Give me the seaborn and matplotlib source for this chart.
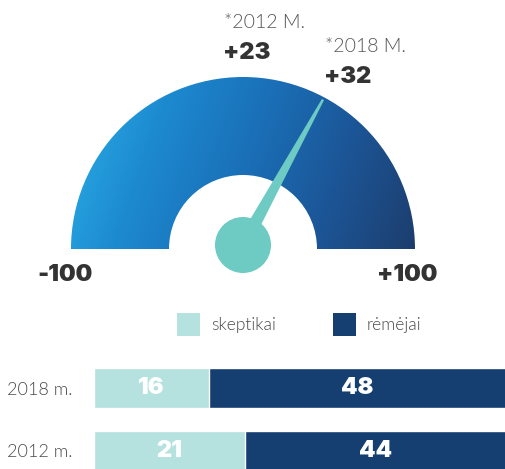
import numpy as np
import pandas as pd
import matplotlib
matplotlib.use("Agg")
import matplotlib.pyplot as plt
from matplotlib.patches import Wedge, Circle, Polygon, Rectangle
from matplotlib.colors import LinearSegmentedColormap
import seaborn as sns

# ---- data ----
gauge_min, gauge_max = -100, 100
gauge_years = ["*2012 M.", "*2018 M."]
gauge_values = [23, 32]
needle_value = 32

years = ["2018 m.", "2012 m."]
skeptikai = [16, 21]
remejai = [48, 44]
series_names = ["skeptikai", "rėmėjai"]

# ---- style ----
sns.set_theme(style="white")
plt.rcParams["font.family"] = ["Lato", "DejaVu Sans"]
HEAVY = dict(family=["Inter", "Lato", "DejaVu Sans"], fontweight=900)
LIGHT = dict(family=["Lato", "DejaVu Sans"], fontweight=300)

c_light = "#b5e1df"
c_dark = "#153f70"
c_teal = "#6ecbc4"
c_num = "#333333"
c_txt = "#4a4a4a"

W, H = 506, 469
fig = plt.figure(figsize=(W / 100, H / 100), dpi=100)

# gauge canvas in pixel units (y grows downward)
ax = fig.add_axes([0, 0, 1, 1])
ax.set_xlim(0, W)
ax.set_ylim(H, 0)
ax.axis("off")

cx, cy = 243, 249
r_out, r_in = 172, 74

arc = Wedge((cx, cy), r_out, 180, 360, width=r_out - r_in,
            facecolor="none", edgecolor="none")
ax.add_patch(arc)

cmap = LinearSegmentedColormap.from_list(
    "gauge", ["#2bb1e7", "#1d8ad0", "#1a70b8", "#1c5596", "#1c3e6e"])
gx = np.linspace(0, 1, 400)
gy = np.linspace(0, 1, 200)
GX, GY = np.meshgrid(gx, gy)
grad = np.clip(GX * 0.85 + (1 - GY) * 0.15, 0, 1)
img = ax.imshow(grad, cmap=cmap, extent=(cx - r_out, cx + r_out, cy, cy - r_out),
                origin="lower", aspect="auto", interpolation="bilinear", zorder=1)
img.set_clip_path(arc)

# needle: angle from value on a linear -100..+100 half-circle scale
px, py = cx, 245
theta = np.deg2rad(180 * (gauge_max - needle_value) / (gauge_max - gauge_min))
d = np.array([np.cos(theta), -np.sin(theta)])
nrm = np.array([-d[1], d[0]])
length = 166
base = np.array([px, py])
tip = base + d * length
needle = Polygon([base + nrm * 7, tip + nrm * 1.2, tip - nrm * 1.2, base - nrm * 7],
                 closed=True, facecolor=c_teal, edgecolor="none", zorder=3)
ax.add_patch(needle)
ax.add_patch(Circle((px, py), 28, facecolor=c_teal, edgecolor="none", zorder=4))

# gauge labels
label_pos = [(224, 22, 53), (325, 46, 77)]
for (lx, ty, vy), yr, v in zip(label_pos, gauge_years, gauge_values):
    ax.text(lx, ty, yr, fontsize=14, color="#555555", ha="left", va="center", **LIGHT)
    ax.text(lx - 1, vy, f"{v:+d}", fontsize=17, color=c_num, ha="left",
            va="center", **HEAVY)

ax.text(37, 275, f"{gauge_min:d}", fontsize=17, color=c_num, ha="left",
        va="center", **HEAVY)
ax.text(377, 275, f"{gauge_max:+d}", fontsize=17, color=c_num, ha="left",
        va="center", **HEAVY)

# legend
for sx, name, col in [(177, series_names[0], c_light), (333, series_names[1], c_dark)]:
    ax.add_patch(Rectangle((sx, 313), 23, 23, facecolor=col, edgecolor="none"))
    ax.text(sx + 34, 325, name, fontsize=12.5, color=c_txt, ha="left",
            va="center", **LIGHT)

# ---- stacked bars ----
bx0 = 94
bax = fig.add_axes([bx0 / W, 0, 1 - bx0 / W, (H - 345) / H])
df = pd.DataFrame({"year": years, "skeptikai": skeptikai, "remejai": remejai})
df["total"] = df["skeptikai"] + df["remejai"]

sns.barplot(data=df, y="year", x="total", color=c_dark, width=0.635,
            saturation=1, ax=bax, orient="h")
sns.barplot(data=df, y="year", x="skeptikai", color=c_light, width=0.635,
            saturation=1, ax=bax, orient="h")

xmax = (W - bx0) / 7.2
bax.set_xlim(0, xmax)
bax.set_ylim(1.286, -0.683)
bax.set_xlabel("")
bax.set_ylabel("")
bax.set_xticks([])
sns.despine(ax=bax, left=True, bottom=True)
bax.tick_params(axis="y", length=0, pad=15.5, labelsize=13, labelcolor=c_txt)
for t in bax.get_yticklabels():
    t.set_fontweight(300)

for i, (s, r) in enumerate(zip(skeptikai, remejai)):
    bax.text(s / 2, i, f"{s}", color="white", fontsize=17, ha="center",
             va="center", **HEAVY)
    right = min(s + r, xmax)
    bax.text((s + right) / 2, i, f"{r}", color="white", fontsize=17,
             ha="center", va="center", **HEAVY)

fig.savefig("out.png", dpi=100)
